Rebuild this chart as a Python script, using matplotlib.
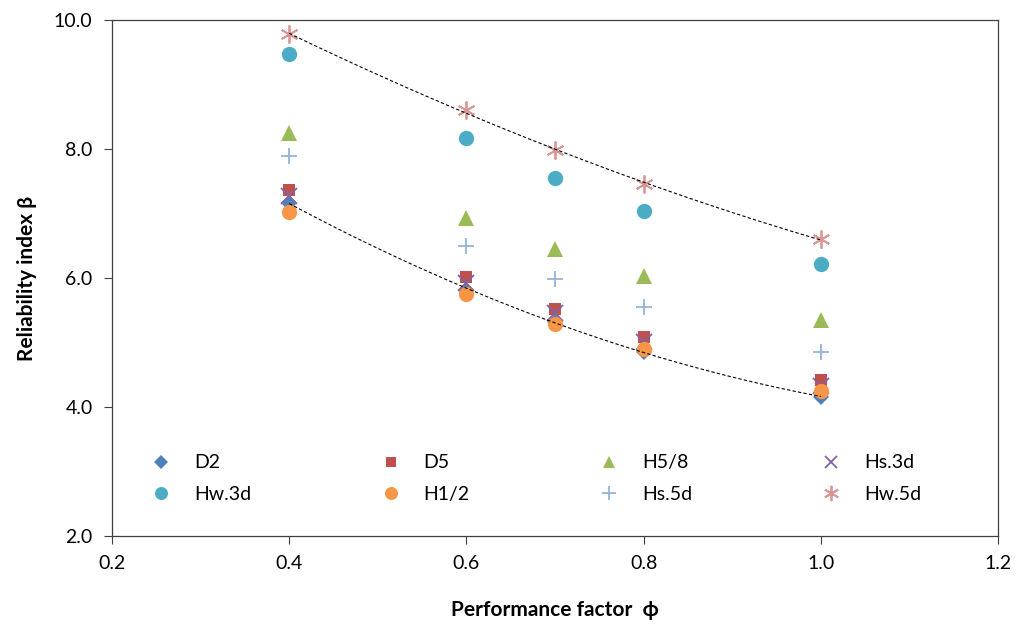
import numpy as np
import matplotlib
matplotlib.use("Agg")
import matplotlib.pyplot as plt

phi = [0.4, 0.6, 0.7, 0.8, 1.0]
D2 = [7.16, 5.82, 5.32, 4.85, 4.16]
D5 = [7.36, 6.02, 5.52, 5.09, 4.42]
H58 = [8.25, 6.93, 6.45, 6.03, 5.35]
Hs3d = [7.27, 5.93, 5.46, 5.01, 4.33]
Hw3d = [9.47, 8.17, 7.55, 7.04, 6.22]
H12 = [7.02, 5.75, 5.29, 4.90, 4.25]
Hs5d = [7.89, 6.50, 5.98, 5.55, 4.85]
Hw5d = [9.78, 8.60, 7.98, 7.46, 6.60]

series = [
    ("D2", D2, "D", "#4F81BD", 8, 0),
    ("D5", D5, "s", "#C0504D", 8.5, 0),
    ("H5/8", H58, "^", "#9BBB59", 11, 0),
    ("Hs.3d", Hs3d, "x", "#8064A2", 11, 1.3),
    ("Hw.3d", Hw3d, "o", "#4BACC6", 11, 0),
    ("H1/2", H12, "o", "#F79646", 11, 0),
    ("Hs.5d", Hs5d, "+", "#95B3D7", 12, 1.3),
    ("Hw.5d", Hw5d, (6, 2, 0), "#D99694", 13, 1.3),
]

plt.rcParams['font.family'] = ['Lato', 'DejaVu Sans']
fig = plt.figure(figsize=(10.19, 6.27), dpi=100)
ax = fig.add_axes([112/1019, 1-536/627, (998-112)/1019, (536-20)/627])

handles = {}
for name, ys, mk, col, ms, mew in series:
    kw = dict(marker=mk, color=col, markersize=ms, linestyle='none',
              markeredgewidth=mew)
    h, = ax.plot(phi, ys, label=name, zorder=3, **kw)
    handles[name] = h

# polynomial trend lines (order 2)
xs = np.linspace(0.4, 1.0, 100)
for ys in (Hw5d, D2):
    c = np.polyfit(phi, ys, 2)
    ax.plot(xs, np.polyval(c, xs), linestyle=(0, (3, 2)), color='black', lw=0.8, zorder=4)

ax.set_xlim(0.2, 1.2)
ax.set_ylim(2.0, 10.0)
ax.set_xticks([0.2, 0.4, 0.6, 0.8, 1.0, 1.2])
ax.set_yticks([2, 4, 6, 8, 10])
ax.xaxis.set_major_formatter(matplotlib.ticker.FormatStrFormatter('%.1f'))
ax.yaxis.set_major_formatter(matplotlib.ticker.FormatStrFormatter('%.1f'))
ax.tick_params(direction='out', length=6, labelsize=14, width=0.8, colors='#404040', labelcolor='black')
ax.tick_params(axis='y', pad=8)
ax.tick_params(axis='x', pad=8)
for s in ax.spines.values():
    s.set_color('#404040')
    s.set_linewidth(0.9)

ax.set_xlabel("Performance factor  \u03d5", fontsize=15, fontweight='bold', labelpad=20)
ax.set_ylabel("Reliability index \u03b2", fontsize=15, fontweight='bold', labelpad=12)

order = ["D2", "Hw.3d", "D5", "H1/2", "H5/8", "Hs.5d", "Hs.3d", "Hw.5d"]
leg = ax.legend([handles[n] for n in order], order, ncol=4, loc='lower left',
                bbox_to_anchor=(0.014, 0.03), frameon=False, fontsize=14,
                columnspacing=6.15, handletextpad=0.7, labelspacing=0.75,
                markerscale=0.85)

fig.savefig("out.png", dpi=100)
